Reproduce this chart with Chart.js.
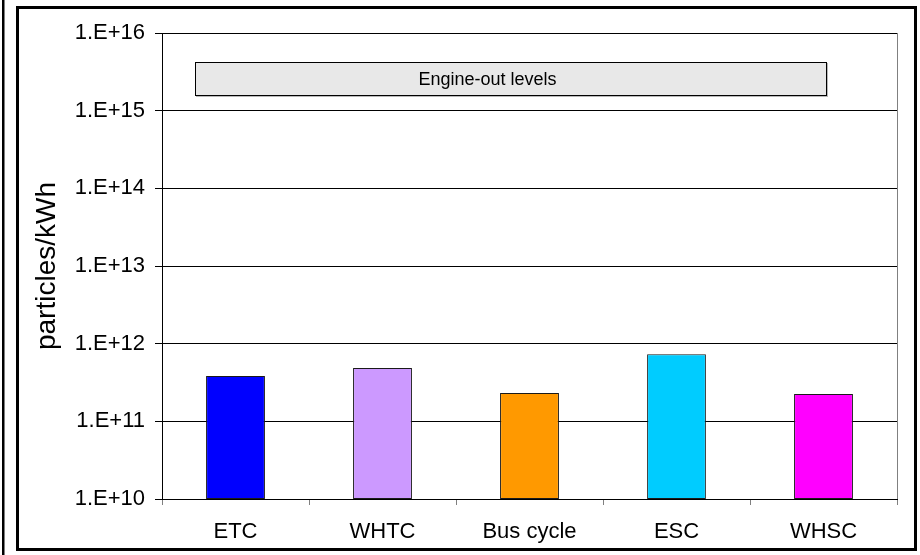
<!DOCTYPE html>
<html>
<head>
<meta charset="utf-8">
<script src="https://cdn.jsdelivr.net/npm/chart.js@4/dist/chart.umd.min.js"></script>
<style>
  html, body { margin: 0; padding: 0; background: #ffffff; }
  canvas { display: block; }
</style>
</head>
<body>
<canvas id="chart" width="920" height="555"></canvas>
<script>
// Test cycles and measured particle number emissions (particles/kWh)
const cycles = ['ETC', 'WHTC', 'Bus cycle', 'ESC', 'WHSC'];
const particleCounts = [3.83e11, 4.86e11, 2.31e11, 7.3e11, 2.25e11];
const barColors = ['#0000ff', '#cc99ff', '#ff9900', '#00ccff', '#ff00ff'];

// Engine-out band (low, high) in particles/kWh
const engineOutBand = [1.59e15, 4.24e15];
const engineOutLabel = 'Engine-out levels';

// Logarithmic axis: one tick per decade
const yTickValues = [1e10, 1e11, 1e12, 1e13, 1e14, 1e15, 1e16];
const yTickLabels = ['1.E+10', '1.E+11', '1.E+12', '1.E+13', '1.E+14', '1.E+15', '1.E+16'];

const FONT = "'Liberation Sans', Arial, sans-serif";

// Outer frame, right-hand plot border and the engine-out band
const decorations = {
  id: 'decorations',
  afterDatasetsDraw(chart, args, opts) {
    const { ctx, chartArea, scales } = chart;
    const x = scales.x, y = scales.y;
    const step = x.getPixelForValue(1) - x.getPixelForValue(0);
    const x0 = x.getPixelForValue(0) + opts.bandFrom * step;
    const x1 = x.getPixelForValue(0) + opts.bandTo * step;
    const yTop = y.getPixelForValue(engineOutBand[1]);
    const yBot = y.getPixelForValue(engineOutBand[0]);
    ctx.save();
    // band shadow
    ctx.fillStyle = '#b8b8b8';
    ctx.fillRect(Math.round(x0) + 1, Math.round(yTop) + 1, Math.round(x1 - x0) + 1, Math.round(yBot - yTop) + 1);
    ctx.fillStyle = '#e8e8e8';
    ctx.fillRect(Math.round(x0) + 0.5, Math.round(yTop) + 0.5, Math.round(x1 - x0), Math.round(yBot - yTop));
    ctx.strokeStyle = '#000000';
    ctx.lineWidth = 1;
    ctx.strokeRect(Math.round(x0) + 0.5, Math.round(yTop) + 0.5, Math.round(x1 - x0), Math.round(yBot - yTop));
    ctx.fillStyle = '#000000';
    ctx.font = '18px ' + FONT;
    ctx.textAlign = 'center';
    ctx.textBaseline = 'middle';
    ctx.fillText(engineOutLabel, x.getPixelForValue(0) + opts.labelAt * step, (yTop + yBot) / 2 + 2);

    // right border of the plot area
    ctx.strokeStyle = '#808080';
    ctx.beginPath();
    ctx.moveTo(Math.round(chartArea.right) + 0.5, chartArea.top);
    ctx.lineTo(Math.round(chartArea.right) + 0.5, chartArea.bottom);
    ctx.stroke();
    ctx.restore();
  },
  afterDraw(chart) {
    const { ctx, width, height } = chart;
    ctx.save();
    ctx.strokeStyle = '#000000';
    ctx.lineWidth = 3;
    ctx.strokeRect(17.5, 7.5, 898, 542);
    ctx.fillStyle = '#000000';
    ctx.fillRect(2, 0, 2.5, height);
    ctx.restore();
  }
};

new Chart(document.getElementById('chart'), {
  type: 'bar',
  data: {
    labels: cycles,
    datasets: [{
      data: particleCounts,
      backgroundColor: barColors,
      borderColor: '#1a1a1a',
      borderWidth: 1,
      borderSkipped: false,
      categoryPercentage: 1.0,
      barPercentage: 0.4
    }]
  },
  options: {
    responsive: false,
    animation: false,
    devicePixelRatio: 1,
    layout: { padding: { top: 33, right: 23, left: 0, bottom: 0 } },
    plugins: {
      legend: { display: false },
      tooltip: { enabled: false },
      decorations: { bandFrom: -0.276, bandTo: 4.017, labelAt: 1.714 }
    },
    scales: {
      x: {
        type: 'category',
        offset: true,
        grid: {
          offset: true,
          drawOnChartArea: false,
          drawTicks: true,
          tickLength: 6,
          color: '#808080'
        },
        border: { display: true, color: '#000000', width: 1 },
        ticks: {
          color: '#000000',
          font: { family: FONT, size: 22 },
          padding: 14,
          maxRotation: 0
        },
        afterFit(scale) { scale.height = 56; }
      },
      y: {
        type: 'logarithmic',
        min: 1e10,
        max: 1e16,
        afterBuildTicks(scale) {
          scale.ticks = yTickValues.map(v => ({ value: v, major: true }));
        },
        grid: {
          color: '#000000',
          lineWidth: 1,
          drawTicks: true,
          tickLength: 7
        },
        border: { display: true, color: '#000000', width: 1 },
        ticks: {
          color: '#000000',
          font: { family: FONT, size: 22 },
          padding: 10,
          autoSkip: false,
          callback(value) {
            const i = yTickValues.indexOf(value);
            return i >= 0 ? yTickLabels[i] : '';
          }
        },
        title: {
          display: true,
          text: 'particles/kWh',
          color: '#000000',
          font: { family: FONT, size: 28 },
          padding: { top: 30, bottom: 0 }
        },
        afterFit(scale) { scale.width = 162; }
      }
    }
  },
  plugins: [decorations]
});
</script>
</body>
</html>
